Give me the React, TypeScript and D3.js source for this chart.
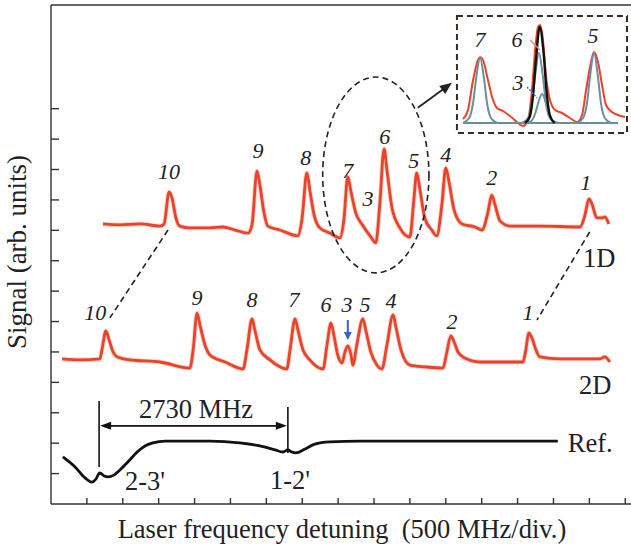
import React from 'react';
import * as d3 from 'd3';

const W = 631;
const H = 547;

// x in divisions (500 MHz/div), y in arb. units (one tick = 1)
const trace1D: [number, number][] = [
  [1.45, 9.21], [1.92, 9.18], [2.48, 9.21], [3.04, 9.14], [3.15, 9.21], [3.29, 10.26], [3.37, 10.07],
  [3.48, 9.41], [3.59, 9.14], [3.87, 9.08], [4.43, 9.08], [4.79, 9.11], [5.13, 9.01], [5.49, 8.91],
  [5.6, 9.18], [5.74, 10.95], [5.82, 10.49], [5.93, 9.61], [6.04, 9.14], [6.38, 9.01], [6.88, 8.82],
  [6.99, 9.34], [7.13, 10.89], [7.21, 10.33], [7.33, 9.51], [7.49, 9.08], [7.77, 8.91], [8.05, 8.75],
  [8.16, 9.34], [8.27, 10.76], [8.36, 10.26], [8.5, 9.54], [8.66, 9.21], [8.89, 8.82], [9.05, 8.59],
  [9.16, 9.84], [9.28, 11.68], [9.36, 10.99], [9.5, 9.74], [9.72, 9.08], [10.0, 8.78], [10.11, 10.0],
  [10.19, 10.89], [10.28, 10.33], [10.42, 9.38], [10.61, 9.01], [10.75, 8.82], [10.89, 9.84],
  [11.0, 11.05], [11.09, 10.59], [11.23, 9.67], [11.45, 9.21], [11.81, 9.11], [12.01, 9.01],
  [12.17, 9.57], [12.28, 10.16], [12.37, 9.84], [12.51, 9.31], [12.79, 9.14], [13.62, 9.14],
  [14.74, 9.11], [14.87, 9.47], [14.99, 10.03], [15.07, 9.87], [15.21, 9.41], [15.35, 9.41],
  [15.43, 9.44], [15.54, 9.21],
];

const trace2D: [number, number][] = [
  [0.31, 4.77], [0.81, 4.74], [1.36, 4.77], [1.42, 5.07], [1.53, 5.69], [1.62, 5.39], [1.73, 5.0],
  [1.84, 4.84], [2.2, 4.74], [3.04, 4.67], [3.87, 4.47], [3.96, 5.07], [4.07, 6.28], [4.15, 5.89],
  [4.29, 5.23], [4.43, 4.9], [4.85, 4.67], [5.35, 4.44], [5.46, 5.07], [5.6, 6.09], [5.68, 5.72],
  [5.82, 5.07], [6.1, 4.74], [6.57, 4.44], [6.66, 5.07], [6.8, 6.09], [6.88, 5.72], [7.02, 5.07],
  [7.21, 4.74], [7.58, 4.44], [7.69, 5.23], [7.8, 5.95], [7.88, 5.56], [7.99, 4.9], [8.11, 4.64],
  [8.19, 5.0], [8.27, 5.2], [8.36, 4.9], [8.41, 4.57], [8.52, 5.23], [8.69, 6.09], [8.77, 5.72],
  [8.91, 5.0], [9.08, 4.57], [9.22, 4.44], [9.36, 5.23], [9.53, 6.22], [9.61, 5.82], [9.75, 5.07],
  [10.0, 4.57], [10.42, 4.51], [10.92, 4.47], [11.03, 5.0], [11.14, 5.53], [11.23, 5.33],
  [11.34, 5.0], [11.53, 4.8], [11.95, 4.67], [13.15, 4.67], [13.23, 5.07], [13.31, 5.63],
  [13.4, 5.46], [13.51, 5.07], [13.62, 4.84], [14.18, 4.77], [15.01, 4.77], [15.29, 4.77],
  [15.43, 4.84], [15.57, 4.67],
];

const traceRef: [number, number][] = [
  [0.33, 1.55], [0.67, 1.22], [0.95, 0.86], [1.14, 0.72], [1.25, 0.82], [1.36, 1.02], [1.48, 0.92],
  [1.59, 0.89], [1.75, 0.95], [1.92, 1.12], [2.14, 1.38], [2.4, 1.71], [2.62, 1.91], [2.84, 2.01],
  [3.18, 2.07], [3.59, 2.07], [4.43, 2.07], [5.26, 2.01], [5.82, 1.91], [6.24, 1.78], [6.46, 1.71],
  [6.6, 1.78], [6.71, 1.71], [6.82, 1.68], [7.08, 1.81], [7.35, 1.97], [7.77, 2.04], [8.61, 2.07],
  [11.11, 2.07], [14.12, 2.07],
];

const peakNames1D = ['10', '9', '8', '7', '3', '6', '5', '4', '2', '1'];
const peakX1D = [3.29, 5.77, 7.1, 8.27, 8.83, 9.3, 10.11, 11.0, 12.28, 14.9];
const peakY1D = [10.69, 11.38, 11.15, 10.72, 9.8, 11.84, 11.05, 11.25, 10.49, 10.33];

const peakNames2D = ['10', '9', '8', '7', '6', '3', '5', '4', '2', '1'];
const peakX2D = [1.23, 4.07, 5.6, 6.77, 7.66, 8.25, 8.75, 9.47, 11.17, 13.29];
const peakY2D = [6.05, 6.55, 6.48, 6.48, 6.32, 6.32, 6.32, 6.45, 5.76, 6.05];

const xTicks = d3.range(1, 17);
const yTicks = d3.range(1, 14);

// inset: x 0..100 across its baseline, y 0..1
const insetSignal: [number, number][] = [
  [0, 0.04], [3.2, 0.13], [6.5, 0.43], [9.7, 0.63], [11.0, 0.66], [12.9, 0.63], [16.1, 0.43],
  [19.4, 0.23], [21.9, 0.15], [25.8, 0.12], [30.3, 0.07], [34.8, 0.01], [38.7, -0.03], [41.9, 0.03],
  [44.5, 0.33], [46.5, 0.73], [48.4, 0.96], [49.7, 0.98], [51.6, 0.83], [53.5, 0.48], [56.1, 0.23],
  [59.4, 0.13], [63.9, 0.1], [69.0, 0.05], [73.5, 0.01], [76.8, 0.08], [79.4, 0.33], [82.6, 0.61],
  [84.5, 0.71], [87.1, 0.61], [89.7, 0.38], [92.3, 0.18], [96.1, 0.11], [100, 0.08], [104.5, 0.06],
];
const fit7: [number, number][] = [
  [0, 0], [4, 0.05], [6.5, 0.2], [8.5, 0.45], [11, 0.65], [13.5, 0.45], [15.5, 0.2], [18, 0.05], [22, 0],
];
const fit6: [number, number][] = [
  [38, 0], [42, 0.05], [44.5, 0.2], [46.5, 0.47], [49, 0.7], [51.5, 0.47], [53.5, 0.2], [56, 0.05], [60, 0],
];
const fit3: [number, number][] = [
  [40, 0], [44, 0.02], [46.5, 0.09], [48.5, 0.2], [51, 0.29], [53.5, 0.2], [55.5, 0.09], [58, 0.02], [62, 0],
];
const fit5: [number, number][] = [
  [73.5, 0], [77.5, 0.05], [80, 0.2], [82, 0.47], [84.5, 0.7], [87, 0.47], [89, 0.2], [91.5, 0.05], [95.5, 0],
];
const fitSum6: [number, number][] = [
  [40, 0], [43, 0.06], [45, 0.25], [47, 0.62], [49.5, 0.96], [52, 0.7], [54, 0.3], [56, 0.08], [59, 0],
];
const insetNames = ['7', '6', '3', '5'];
const insetLabelX = [11.0, 34.8, 35.5, 83.9];
const insetLabelY = [0.76, 0.76, 0.33, 0.8];

const RED = '#e8432b';
const TEAL = '#6a909c';
const INK = '#222';
const serif = '"Liberation Serif", "Times New Roman", serif';

const x = d3.scaleLinear().domain([0, 16.16]).range([51, 631]);
const y = d3.scaleLinear().domain([0, 16.41]).range([504, 5]);
const xi = d3.scaleLinear().domain([0, 100]).range([463, 618]);
const yi = d3.scaleLinear().domain([0, 1]).range([123, 23]);

const line = d3.line<[number, number]>().x(d => x(d[0])).y(d => y(d[1])).curve(d3.curveMonotoneX);
const iline = d3.line<[number, number]>().x(d => xi(d[0])).y(d => yi(d[1])).curve(d3.curveMonotoneX);

// filled arrow head at (x2,y2) pointing from (x1,y1)
function head(x1: number, y1: number, x2: number, y2: number, len = 10, half = 3.5) {
  const a = Math.atan2(y2 - y1, x2 - x1);
  const bx = x2 - len * Math.cos(a);
  const by = y2 - len * Math.sin(a);
  const px = -Math.sin(a) * half;
  const py = Math.cos(a) * half;
  return `M${x2},${y2}L${bx + px},${by + py}L${bx - px},${by - py}Z`;
}

export default function App() {
  // 2730 MHz bracket
  const bL = x(1.34), bR = x(6.6), bY = y(2.57);
  // ellipse arrow to inset
  const eA = [x(10.22), y(13.03)], eB = [x(11.17), y(13.85)];
  const blueA = [x(8.27), y(6.05)], blueB = [x(8.27), y(5.39)];

  return (
    <svg width={W} height={H} style={{ position: 'absolute', left: 0, top: 0, background: '#fff' }}
      fontFamily={serif}>
      {/* frame */}
      <g stroke="#333" strokeWidth={1.4} fill="none">
        <line x1={x(0)} x2={W} y1={y(0)} y2={y(0)} />
        <line x1={x(0)} x2={x(0)} y1={y(0)} y2={y(16.41)} />
        <line x1={x(0)} x2={W} y1={y(16.41)} y2={y(16.41)} />
        {xTicks.map(t => <line key={'x' + t} x1={x(t)} x2={x(t)} y1={y(0)} y2={y(0) - 6} />)}
        {yTicks.map(t => <line key={'y' + t} x1={x(0)} x2={x(0) + 8} y1={y(t)} y2={y(t)} />)}
      </g>

      {/* traces */}
      <path d={line(trace1D) || ''} fill="none" stroke="#f6a392" strokeWidth={4.6} strokeOpacity={0.5} />
      <path d={line(trace1D) || ''} fill="none" stroke={RED} strokeWidth={2.8} strokeLinejoin="round" />
      <path d={line(trace2D) || ''} fill="none" stroke="#f6a392" strokeWidth={4.6} strokeOpacity={0.5} />
      <path d={line(trace2D) || ''} fill="none" stroke={RED} strokeWidth={2.8} strokeLinejoin="round" />
      <path d={line(traceRef) || ''} fill="none" stroke="#111" strokeWidth={2.8} strokeLinejoin="round" />

      {/* peak labels */}
      <g fontStyle="italic" fontSize={22} fill={INK} textAnchor="middle">
        {peakNames1D.map((n, i) => <text key={'a' + i} x={x(peakX1D[i])} y={y(peakY1D[i])}>{n}</text>)}
        {peakNames2D.map((n, i) => <text key={'b' + i} x={x(peakX2D[i])} y={y(peakY2D[i])}>{n}</text>)}
      </g>

      {/* dashed connectors */}
      <g stroke={INK} strokeWidth={1.6} strokeDasharray="6 4" fill="none">
        <line x1={x(3.26)} y1={y(9.01)} x2={x(1.64)} y2={y(6.12)} />
        <line x1={x(15.01)} y1={y(8.95)} x2={x(13.54)} y2={y(6.05)} />
        <ellipse cx={x(9.05)} cy={y(10.82)} rx={x(1.48) - x(0)} ry={y(0) - y(3.22)} />
      </g>
      <line x1={eA[0]} y1={eA[1]} x2={eB[0] - 6} y2={eB[1] + 4.5} stroke={INK} strokeWidth={1.8} />
      <path d={head(eA[0], eA[1], eB[0], eB[1], 12, 5)} fill={INK} />

      {/* blue arrow at peak 3 */}
      <line x1={blueA[0]} y1={blueA[1]} x2={blueB[0]} y2={blueB[1] - 5} stroke="#3b5fc4" strokeWidth={2} />
      <path d={head(blueA[0], blueA[1], blueB[0], blueB[1], 8, 4)} fill="#3b5fc4" />

      {/* 2730 MHz bracket */}
      <g stroke="#111" strokeWidth={1.6}>
        <line x1={bL} x2={bL} y1={y(3.39)} y2={y(1.22)} />
        <line x1={bR} x2={bR} y1={y(3.19)} y2={y(1.68)} />
        <line x1={bL + 8} x2={bR - 8} y1={bY} y2={bY} />
      </g>
      <path d={head(bR, bY, bL + 1, bY, 11, 4)} fill="#111" />
      <path d={head(bL, bY, bR - 1, bY, 11, 4)} fill="#111" />

      {/* plain labels */}
      <g fontSize={26.5} fill={INK}>
        <text x={x(4.04)} y={y(2.83)} textAnchor="middle">2730 MHz</text>
        <text x={x(2.06)} y={y(0.46)}>2-3'</text>
        <text x={x(6.1)} y={y(0.49)}>1-2'</text>
        <text x={x(14.82)} y={y(7.8)}>1D</text>
        <text x={x(14.71)} y={y(3.62)}>2D</text>
        <text x={x(14.4)} y={y(1.71)}>Ref.</text>
        <text x={342} y={538} textAnchor="middle">Laser frequency detuning {'\u00a0'}(500 MHz/div.)</text>
        <text transform="translate(26,252) rotate(-90)" textAnchor="middle" fontSize={27}>Signal (arb. units)</text>
      </g>

      {/* inset */}
      <rect x={xi(-3.9)} y={yi(1.07)} width={xi(105.8) - xi(-3.9)} height={yi(-0.1) - yi(1.07)}
        fill="#fff" stroke="#3a2a22" strokeWidth={2} strokeDasharray="6 4" />
      <path d={iline(insetSignal) || ''} fill="none" stroke={RED} strokeWidth={2} />
      <line x1={xi(0)} x2={xi(100)} y1={yi(0)} y2={yi(0)} stroke={TEAL} strokeWidth={2} />
      {[fit7, fit6, fit3, fit5].map((f, i) => (
        <path key={'f' + i} d={iline(f) || ''} fill="none" stroke={TEAL} strokeWidth={2} />
      ))}
      <path d={iline(fitSum6) || ''} fill="none" stroke="#111" strokeWidth={2.4} />
      <line x1={xi(43.2)} y1={yi(0.83)} x2={xi(49.7)} y2={yi(0.73)} stroke="#e88a6a" strokeWidth={1.5} />
      <line x1={xi(41.3)} y1={yi(0.36)} x2={xi(47.7)} y2={yi(0.25)} stroke="#4a64c0" strokeWidth={1.5} strokeDasharray="2 1.5" />
      <g fontStyle="italic" fontSize={22} fill={INK} textAnchor="middle">
        {insetNames.map((n, i) => <text key={'i' + i} x={xi(insetLabelX[i])} y={yi(insetLabelY[i])}>{n}</text>)}
      </g>
    </svg>
  );
}
